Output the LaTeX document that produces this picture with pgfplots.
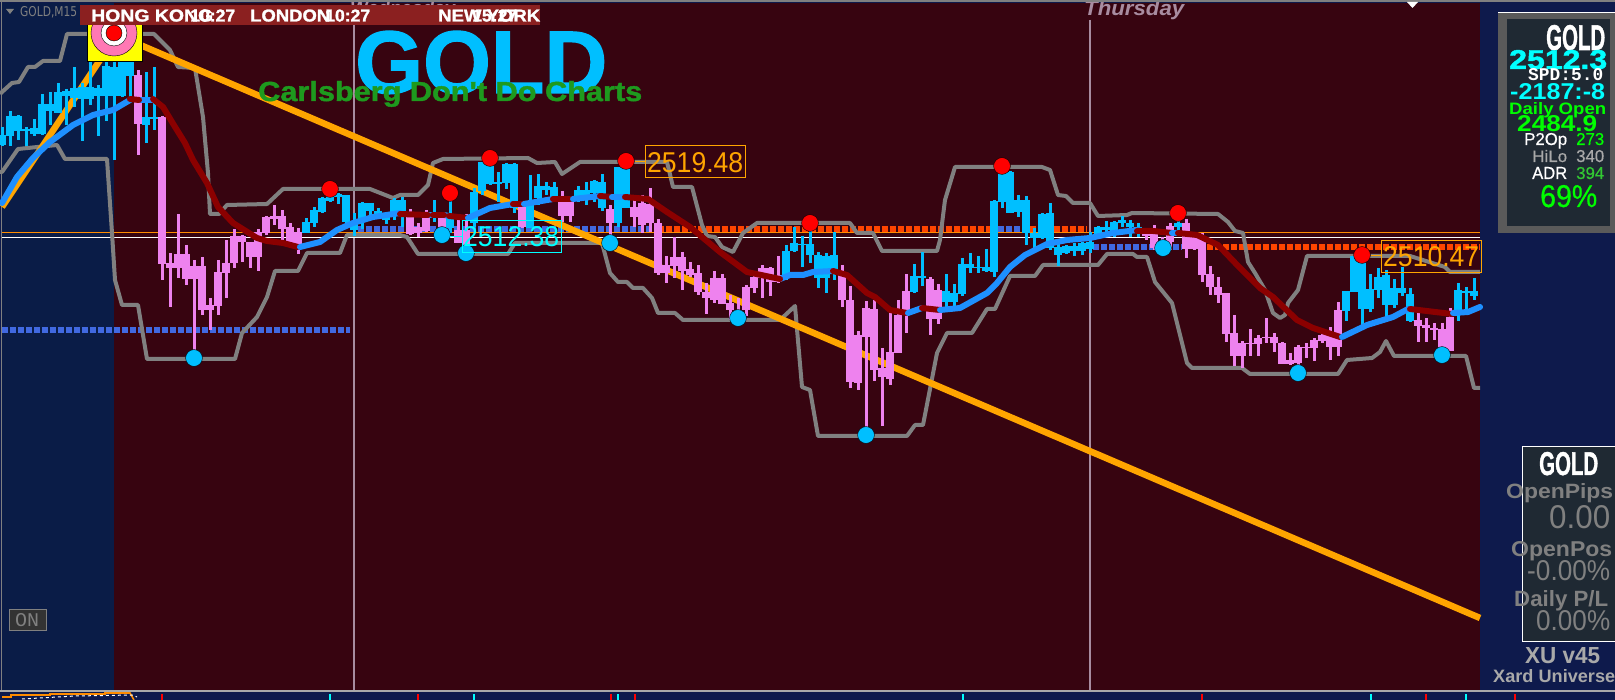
\documentclass[border=0pt]{standalone}
\usepackage{fontspec}
\setmainfont{Liberation Sans}
\newfontfamily\dejavu{DejaVu Sans}
\newfontfamily\lmono{Liberation Mono}
\newfontfamily\heavy[UprightFont=* Bold,FakeBold=1.5]{Liberation Sans}
\newfontfamily\medium[FakeBold=0.6]{Liberation Sans}
\usepackage{pgfplots}
\usepackage{pgfplotstable}
\pgfplotsset{compat=1.18}
\definecolor{navyL}{HTML}{0A1C47}
\definecolor{navyR}{HTML}{0E1A4C}
\definecolor{maroonbg}{HTML}{370410}
\definecolor{banner}{HTML}{8B2020}
\definecolor{cblue}{HTML}{00BFFF}
\definecolor{cpink}{HTML}{EE82EE}
\definecolor{mablue}{HTML}{1E90FF}
\definecolor{mared}{HTML}{8B0000}
\definecolor{grayband}{HTML}{808080}
\definecolor{trend}{HTML}{FFA500}
\definecolor{dashblue}{HTML}{4169E1}
\definecolor{dashred}{HTML}{FF4500}
\definecolor{panelbg}{HTML}{1F2933}
\definecolor{panelgray}{HTML}{5A5A5A}
\definecolor{vline}{HTML}{A88CA0}
\definecolor{lime}{HTML}{00FF00}
\definecolor{cgreen}{HTML}{1E9A1E}
\definecolor{aqua}{HTML}{00FFFF}
\definecolor{yel}{HTML}{FFFF00}
\definecolor{hotp}{HTML}{FF78B4}
\definecolor{pure}{HTML}{FF0000}
\definecolor{ltgray}{HTML}{A9A9A9}
\definecolor{midgray}{HTML}{808080}
\definecolor{grn}{HTML}{32C832}
\definecolor{ora}{HTML}{FF8C00}

\pgfplotstableread{
x hi lo top bot
2 127 146 135 145
10 111 146 116 136
18 115 140 116 131
26 127 146 129 131
34 119 136 128 134
42 94 135 104 134
50 92 125 104 111
58 83 113 92 113
66 89 125 91 96
74 67 107 88 98
82 83 141 87 99
90 61 105 87 99
98 85 136 88 96
106 60 121 66 96
114 35 160 67 96
122 42 97 53 96
130 52 97 53 76
146 72 143 117 125
154 67 130 117 119
306 218 233 222 233
314 207 227 210 223
322 197 213 198 212
330 189 202 195 201
338 193 204 194 197
346 195 223 195 222
354 213 236 222 230
362 202 229 203 222
370 203 216 203 211
378 208 218 211 215
386 213 224 213 220
394 198 220 200 213
402 197 227 200 213
434 200 222 212 217
450 195 233 218 228
474 188 227 192 223
482 162 195 162 191
490 159 185 161 184
498 172 202 182 184
506 163 189 164 183
514 163 213 164 208
530 175 228 205 228
538 174 205 186 198
546 182 195 186 190
554 182 200 187 198
578 186 202 190 198
586 182 205 190 195
594 180 202 181 193
602 174 211 182 208
618 167 227 167 223
626 162 208 167 208
786 245 280 251 275
794 227 252 243 251
802 236 267 244 245
810 224 263 244 255
818 252 288 255 278
826 253 293 256 278
834 232 280 255 270
914 264 293 276 292
922 252 286 276 278
946 274 307 291 302
954 284 307 293 302
962 258 296 264 294
970 253 273 264 268
978 256 273 267 268
986 249 272 267 271
994 200 277 201 272
1002 167 208 172 202
1010 171 213 172 213
1018 195 217 200 212
1026 196 245 200 233
1034 228 248 233 238
1042 213 239 214 238
1050 203 250 213 248
1058 244 266 247 255
1066 245 254 246 253
1074 243 256 246 251
1082 242 255 243 251
1090 232 253 242 249
1098 226 238 227 237
1106 221 232 227 230
1114 221 237 222 233
1122 216 227 220 223
1130 220 237 223 227
1138 223 237 227 230
1178 214 233 223 227
1346 291 321 291 311
1354 256 292 256 292
1362 256 327 256 309
1370 274 312 289 309
1378 268 298 277 290
1386 270 317 275 305
1394 279 308 288 305
1402 267 296 288 293
1410 288 322 294 321
1458 283 321 290 310
1466 287 309 291 293
1474 278 300 291 296
}\bluecandles

\pgfplotstableread{
x hi lo top bot
138 70 155 75 124
162 116 280 117 264
170 253 307 263 268
178 214 278 254 268
186 245 285 254 279
194 260 358 266 279
202 257 315 266 310
210 298 330 305 310
218 260 315 272 306
226 240 298 263 273
234 229 268 236 263
242 235 262 236 242
250 242 268 242 257
258 229 271 232 257
266 216 235 217 233
274 205 225 216 219
282 210 240 216 229
290 223 243 227 243
298 228 254 232 247
410 209 235 217 234
418 223 237 227 233
426 210 232 217 231
442 213 237 217 228
458 219 243 230 243
466 214 257 230 253
522 203 228 207 227
562 191 222 202 216
570 200 222 202 216
610 205 247 209 223
634 198 227 207 217
642 195 233 203 225
650 188 232 204 223
658 219 275 223 273
666 256 283 265 273
674 237 278 257 266
682 252 290 257 271
690 262 277 269 275
698 265 295 273 292
706 283 314 292 298
714 271 303 278 300
722 274 304 278 304
730 295 320 303 310
738 298 322 310 312
746 285 316 287 310
754 275 293 277 288
762 265 298 268 278
770 267 296 268 282
778 256 283 275 282
842 265 307 272 300
850 286 388 300 382
858 331 390 335 383
866 301 437 308 337
874 300 381 309 370
882 348 426 368 377
890 313 385 352 379
898 300 353 315 353
906 274 333 291 314
930 277 335 279 319
938 284 324 290 319
1146 232 240 233 236
1154 225 250 232 248
1162 237 253 242 249
1170 223 250 226 242
1186 219 258 223 249
1194 232 250 233 249
1202 233 282 236 275
1210 266 295 274 287
1218 277 303 287 295
1226 293 342 293 334
1234 315 366 333 356
1242 341 368 343 356
1250 329 356 343 344
1258 335 356 338 344
1266 318 343 337 338
1274 333 352 337 343
1282 342 364 343 364
1290 353 365 360 364
1298 345 373 347 363
1306 343 358 347 348
1314 338 361 340 348
1322 333 343 335 341
1330 327 360 333 347
1338 302 356 310 347
1418 313 342 320 326
1426 318 342 325 328
1434 323 340 328 330
1442 323 357 329 351
1450 308 351 317 351
}\pinkcandles

\pgfplotstableread{
x y
162 694
418 694
611 694
635 694
1202 694
1426 694
1515 694
}\redticks
\pgfplotstableread{
x y
330 694
474 694
618 694
963 694
1371 694
1466 694
}\cyanticks

\newcommand{\lbl}[7]{\node[anchor=base west,inner sep=0pt,text=#5] at (axis cs:#1,#2) {\resizebox{#3pt}{#4pt}{#6#7}};}
\pgfplotsset{
  pxaxis/.style={scale only axis,width=1615pt,height=700pt,xmin=0,xmax=1615,ymin=0,ymax=700,y dir=reverse,hide axis,clip=true},
  ebar/.style 2 args={draw=none,no markers,forget plot,error bars/.cd,y dir=plus,y explicit,error mark=none,error bar style={draw=#1,line width=#2,solid}},
  maB/.style={mablue,line width=6pt,line cap=round,line join=round,forget plot},
  maR/.style={mared,line width=6pt,line cap=round,line join=round,forget plot},
  lvl/.style={forget plot,#1,line width=5.6pt,dash pattern=on 6pt off 2pt}
}
\begin{document}
\begin{tikzpicture}
\path[use as bounding box,clip] (0,0) rectangle (1615pt,700pt);
\begin{axis}[pxaxis]
% backgrounds
\fill[navyR] (axis cs:0,0) rectangle (axis cs:1615,700);
\fill[navyL] (axis cs:2,3) rectangle (axis cs:114,690);
\fill[maroonbg] (axis cs:114,3) rectangle (axis cs:1480,690);
% day labels
\lbl{350}{16}{105}{15}{vline}{\bfseries\itshape}{Wednesday}
\lbl{1084}{16}{100}{15}{vline}{\bfseries\itshape}{Thursday}
\addplot[forget plot,grayband,line width=1.6pt] coordinates {(0,1)(1615,1)};
\addplot[forget plot,grayband,line width=1pt] coordinates {(1,0)(1,691)};
\addplot[forget plot,fill=white,draw=none] coordinates {(1407,2)(1418,2)(1412.5,8)} -- cycle;
% period separators
\addplot[forget plot,vline,line width=1.2pt] coordinates {(354,20)(354,691)};
\addplot[forget plot,vline,line width=1.2pt] coordinates {(1090,20)(1090,691)};
% price lines
\addplot[forget plot,ora,line width=1.1pt] coordinates {(2,232.5)(1480,232.5)};
\addplot[forget plot,white,line width=1.1pt] coordinates {(2,237.5)(1480,237.5)};
% dashed levels
\addplot[lvl=dashblue] coordinates {(2,330)(350,330)};
\addplot[lvl=dashblue] coordinates {(358,229)(656,229)};
\addplot[lvl=dashred] coordinates {(658,229)(996,229)};
\addplot[lvl=dashblue] coordinates {(998,229)(1030,229)};
\addplot[lvl=dashred] coordinates {(1030,229)(1087,229)};
\addplot[lvl=dashblue] coordinates {(1093,247)(1182,247)};
\addplot[lvl=dashred] coordinates {(1207,247)(1480,247)};
% bands
\addplot[forget plot,grayband,line width=4pt,line join=round] coordinates {(0,94)(2,92)(12,83)(19,82)(28,67)(35,67)(43,61)(60,61)(67,34)(154,34)(170,50)(178,67)(195,68)(203,117)(208,173)(210,214)(219,214)(227,205)(267,204)(283,189)(370,189)(393,198)(400,195)(418,195)(428,185)(433,163)(443,159)(528,158)(537,163)(555,162)(562,174)(580,162)(667,162)(673,187)(692,187)(702,225)(707,236)(715,237)(722,247)(733,252)(743,233)(757,223)(850,223)(857,233)(873,233)(882,251)(937,251)(940,240)(945,200)(955,167)(1042,167)(1050,170)(1058,195)(1066,196)(1073,203)(1090,203)(1098,216)(1127,215)(1132,213)(1218,214)(1228,222)(1235,231)(1243,233)(1248,262)(1255,273)(1265,290)(1273,313)(1280,318)(1285,315)(1288,303)(1298,290)(1307,256)(1410,256)(1445,267)(1450,272)(1480,272)};
\addplot[forget plot,grayband,line width=4pt,line join=round] coordinates {(0,172)(2,172)(18,149)(57,145)(65,159)(107,159)(112,233)(115,280)(122,305)(138,305)(147,359)(235,359)(242,333)(257,317)(267,297)(275,271)(298,271)(307,253)(340,253)(347,235)(400,235)(407,237)(418,254)(508,254)(515,243)(602,243)(610,273)(618,282)(627,282)(633,288)(643,288)(652,298)(658,313)(675,313)(683,320)(780,320)(795,306)(802,387)(810,390)(818,436)(907,436)(915,425)(923,425)(937,353)(947,333)(972,333)(987,309)(995,309)(1010,276)(1035,276)(1043,265)(1098,265)(1107,254)(1133,254)(1137,257)(1147,257)(1155,282)(1172,303)(1187,363)(1192,368)(1242,368)(1250,374)(1338,374)(1347,360)(1372,358)(1380,352)(1386,341)(1394,356)(1466,356)(1474,388)(1480,388)};
% trend lines
\addplot[forget plot,trend,line width=6.5pt] coordinates {(138,44)(1480,618)};
\addplot[forget plot,trend,line width=6.5pt] coordinates {(2,207)(110,45)};
% target icon
\addplot[forget plot,only marks,mark=square*,mark size=27.5pt,mark options={fill=yel,draw=none}] coordinates {(114.5,33.5)};
\addplot[forget plot,only marks,mark=*,mark size=23pt,mark options={fill=hotp,draw=none}] coordinates {(114,33)};
\addplot[forget plot,only marks,mark=*,mark size=13pt,mark options={fill=white,draw=none}] coordinates {(114,33)};
\addplot[forget plot,only marks,mark=*,mark size=8pt,mark options={fill=pure,draw=none}] coordinates {(114,33)};
% swing dots
\addplot[forget plot,only marks,mark=*,mark size=8.4pt,mark options={fill=pure,draw=none}] coordinates {(330,189)(450,193)(490,158)(626,161)(810,223)(1002,166)(1178,213)(1362,255)};
\addplot[forget plot,only marks,mark=*,mark size=8.4pt,mark options={fill=cblue,draw=none}] coordinates {(194,358)(442,235)(466,253)(610,243)(738,318)(866,435)(1163,248)(1298,373)(1442,355)};
% candles
\addplot[ebar={cblue}{3pt}] table[x=x,y=hi,y error plus expr=\thisrow{lo}-\thisrow{hi}] {\bluecandles};
\addplot[ebar={cblue}{7.5pt}] table[x=x,y=top,y error plus expr=\thisrow{bot}-\thisrow{top}] {\bluecandles};
\addplot[ebar={cpink}{3pt}] table[x=x,y=hi,y error plus expr=\thisrow{lo}-\thisrow{hi}] {\pinkcandles};
\addplot[ebar={cpink}{7.5pt}] table[x=x,y=top,y error plus expr=\thisrow{bot}-\thisrow{top}] {\pinkcandles};
% moving average
\addplot[maB] coordinates {(2,203)(17,177)(33,158)(50,142)(73,125)(93,115)(113,110)(130,100)};
\addplot[maB] coordinates {(140,100)(153,100)};
\addplot[maR] coordinates {(130,99)(139,100)};
\addplot[maR] coordinates {(153,99)(163,107)(172,122)(185,143)(193,160)(207,183)(218,207)(233,223)(257,238)(267,241)(283,243)(298,247)};
\addplot[maB] coordinates {(300,247)(320,242)(337,230)(353,223)(373,217)(400,213)};
\addplot[maB] coordinates {(428,215)(433,215)};
\addplot[maB] coordinates {(444,215)(449,216)};
\addplot[maR] coordinates {(400,214)(428,215)};
\addplot[maR] coordinates {(433,215)(444,215)};
\addplot[maR] coordinates {(449,216)(468,218)};
\addplot[maB] coordinates {(468,218)(490,208)(513,204)};
\addplot[maR] coordinates {(513,204)(524,204)};
\addplot[maB] coordinates {(524,204)(553,199)};
\addplot[maR] coordinates {(553,199)(572,199)};
\addplot[maB] coordinates {(573,199)(600,196)};
\addplot[maR] coordinates {(600,196)(612,197)};
\addplot[maB] coordinates {(612,197)(625,197)};
\addplot[maB] coordinates {(780,279)(790,275)(803,275)(813,272)(833,271)};
\addplot[maR] coordinates {(625,197)(648,199)(667,212)(690,227)(720,252)(747,272)(780,279)};
\addplot[maR] coordinates {(833,271)(847,275)(867,293)(875,297)(890,310)(907,313)};
\addplot[maB] coordinates {(908,313)(922,308)};
\addplot[maR] coordinates {(922,308)(940,310)};
\addplot[maB] coordinates {(940,310)(960,308)(987,293)(997,283)(1010,267)(1025,255)(1047,244)(1067,240)(1090,238)(1113,233)(1137,230)};
\addplot[maR] coordinates {(1137,231)(1153,231)(1172,233)};
\addplot[maB] coordinates {(1172,233)(1176,233)};
\addplot[maR] coordinates {(1178,233)(1197,235)(1218,245)(1240,268)(1260,288)(1273,297)(1297,320)(1313,328)(1340,337)};
\addplot[maB] coordinates {(1342,337)(1367,325)(1393,317)(1408,309)};
\addplot[maR] coordinates {(1410,309)(1452,314)};
\addplot[maB] coordinates {(1453,313)(1468,312)(1480,307)};
\end{axis}
\begin{axis}[pxaxis]
% price labels
\draw[trend,line width=1pt] (axis cs:645,146) rectangle (axis cs:745,178);
\draw[trend,line width=1pt] (axis cs:635,162) -- (axis cs:645,162);
\lbl{647}{173}{96}{20}{trend}{}{2519.48}
\draw[aqua,line width=1pt] (axis cs:462,221) rectangle (axis cs:561,253);
\draw[aqua,line width=1pt] (axis cs:450,237) -- (axis cs:462,237);
\lbl{463}{247}{96}{20}{aqua}{}{2512.38}
\draw[trend,line width=1pt] (axis cs:1381,241) rectangle (axis cs:1481,273);
\draw[trend,line width=1pt] (axis cs:1371,256) -- (axis cs:1381,256);
\lbl{1383}{267}{96}{20}{trend}{}{2510.47}
% banner
\fill[banner] (axis cs:80,5) rectangle (axis cs:540,25);
\lbl{91}{21.5}{122}{12}{white}{\heavy}{HONG KONG}
\lbl{190}{21.5}{45}{12}{white}{\heavy}{10:27}
\lbl{250}{21.5}{80}{12}{white}{\heavy}{LONDON}
\lbl{325}{21.5}{45}{12}{white}{\heavy}{10:27}
\lbl{438}{21.5}{102}{12}{white}{\heavy}{NEW YORK}
\lbl{472}{21.5}{45}{12}{white}{\heavy}{15:27}
% titles
\lbl{355}{93}{252}{62}{cblue}{\heavy}{GOLD}
\lbl{258}{101}{384}{20}{cgreen}{\heavy}{Carlsberg Don't Do Charts}
% top-left
\fill[midgray] (axis cs:6,9)--(axis cs:14,9)--(axis cs:10,14)--cycle;
\lbl{20}{17}{57}{10}{midgray}{\dejavu}{GOLD,M15}
% ON button
\filldraw[draw=midgray,fill=black!80,line width=0.8pt] (axis cs:9,609) rectangle (axis cs:46,630);
\lbl{15}{626}{24}{13}{midgray}{\lmono}{ON}
% upper panel
\fill[panelgray] (axis cs:1498,13) rectangle (axis cs:1615,233);
\fill[white] (axis cs:1498,12) rectangle (axis cs:1615,13.2);
\fill[panelbg] (axis cs:1507,19) rectangle (axis cs:1610,226);
\lbl{1546}{50}{59}{25}{white}{\heavy}{GOLD}
\lbl{1509}{69}{98}{19}{aqua}{\heavy}{2512.3}
\lbl{1528}{81}{75}{12}{white}{\lmono\bfseries}{SPD:5.0}
\lbl{1510}{100}{95}{16}{aqua}{\bfseries}{-2187:-8}
\lbl{1509}{115}{97}{12}{lime}{\bfseries}{Daily Open}
\lbl{1517}{132}{80}{16}{lime}{\bfseries}{2484.9}
\lbl{1524}{145}{43}{12}{white}{\medium}{P2Op}
\lbl{1576}{145}{28}{12}{lime}{\medium}{273}
\lbl{1532}{162}{35}{12}{ltgray}{\medium}{HiLo}
\lbl{1576}{162}{28}{12}{ltgray}{\medium}{340}
\lbl{1532}{179}{35}{12}{white}{\medium}{ADR}
\lbl{1576}{179}{28}{12}{grn}{\medium}{394}
\lbl{1540}{207}{57}{22}{lime}{\medium}{69\%}
% lower panel
\filldraw[draw=white,fill=panelbg,line width=1pt] (axis cs:1522,447) rectangle (axis cs:1620,641);
\lbl{1539}{475}{59}{23}{white}{\heavy}{GOLD}
\lbl{1506}{498}{107}{15}{midgray}{\bfseries}{OpenPips}
\lbl{1549}{528}{61}{23}{midgray}{}{0.00}
\lbl{1511}{556}{101}{15}{midgray}{\bfseries}{OpenPos}
\lbl{1527}{580}{83}{20}{midgray}{}{-0.00\%}
\lbl{1514}{606}{94}{16}{midgray}{\bfseries}{Daily P/L}
\lbl{1536}{630}{74}{20}{midgray}{}{0.00\%}
\lbl{1525}{663}{75}{16}{ltgray}{\bfseries}{XU v45}
\lbl{1493}{682}{122}{13}{ltgray}{\bfseries}{Xard Universe}
% bottom separator and window strip
\addplot[forget plot,ltgray,line width=1.5pt] coordinates {(0,691)(1615,691)};
\addplot[ebar={pure}{2.6pt}] table[x=x,y=y,y error plus expr=6] {\redticks};
\addplot[ebar={aqua}{2.6pt}] table[x=x,y=y,y error plus expr=6] {\cyanticks};
\addplot[forget plot,ora,line width=1.6pt] coordinates {(2,697)(11,697)(11,695)(50,695)(50,694)(105,694)(105,693)(130,693)(134,700)};
\addplot[forget plot,white,line width=1pt,dash pattern=on 3pt off 3pt] coordinates {(22,699)(75,696)(133,695)(137,697)};
\end{axis}
\end{tikzpicture}
\end{document}
